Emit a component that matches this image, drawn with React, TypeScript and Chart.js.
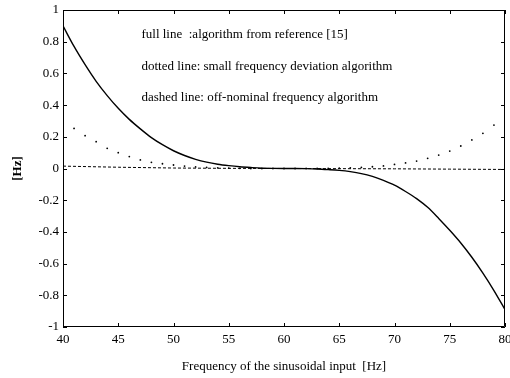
import React, { useEffect, useRef } from "react";
import { Chart, registerables } from "chart.js";

Chart.register(...registerables);

const freqs = [40,41,42,43,44,45,46,47,48,49,50,51,52,53,54,55,56,57,58,59,60,61,62,63,64,65,66,67,68,69,70,71,72,73,74,75,76,77,78,79,80];
const fullLine = [0.90,0.77,0.655,0.55,0.46,0.38,0.31,0.25,0.195,0.15,0.112,0.082,0.058,0.04,0.027,0.018,0.011,0.006,0.002,0.0005,0,0,-0.001,-0.003,-0.007,-0.012,-0.02,-0.032,-0.05,-0.075,-0.105,-0.145,-0.19,-0.245,-0.315,-0.39,-0.47,-0.56,-0.66,-0.77,-0.89];
const dottedLine = [null,0.253,0.207,0.169,0.127,0.10,0.075,0.054,0.039,0.03,0.022,0.015,0.01,0.007,0.004,0.002,0.001,0,0,0,0,0,0,0,0.001,0.002,0.004,0.007,0.011,0.016,0.026,0.035,0.047,0.064,0.085,0.11,0.142,0.18,0.222,0.274,null];
const dashFreqs = [40,45,50,55,60,65,70,75,80];
const dashedLine = [0.015,0.008,0.003,0.001,0,-0.001,-0.002,-0.004,-0.006];

const annotations = [
  "full line  :algorithm from reference [15]",
  "dotted line: small frequency deviation algorithm",
  "dashed line: off-nominal frequency algorithm",
];
const xTitle = "Frequency of the sinusoidal input  [Hz]";
const yTitle = "[Hz]";

const SERIF = "'Liberation Serif', 'Times New Roman', serif";

const framePlugin = {
  id: "frame",
  afterDraw(chart: any) {
    const { ctx, chartArea } = chart;
    const { left, right, top, bottom } = chartArea;
    const xs = chart.scales.x;
    const ys = chart.scales.y;
    ctx.save();
    ctx.strokeStyle = "#000";
    ctx.lineWidth = 1;
    ctx.beginPath();
    ctx.rect(left + 0.5, top + 0.5, right - left - 1, bottom - top - 1);
    ctx.stroke();
    const tl = 4;
    ctx.beginPath();
    xs.ticks.forEach((t: any) => {
      const px = Math.round(xs.getPixelForValue(t.value)) + 0.5;
      ctx.moveTo(px, bottom);
      ctx.lineTo(px, bottom - tl);
      ctx.moveTo(px, top);
      ctx.lineTo(px, top + tl);
    });
    ys.ticks.forEach((t: any) => {
      const py = Math.round(ys.getPixelForValue(t.value)) + 0.5;
      ctx.moveTo(left, py);
      ctx.lineTo(left + tl, py);
      ctx.moveTo(right, py);
      ctx.lineTo(right - tl, py);
    });
    ctx.stroke();
    ctx.fillStyle = "#000";
    ctx.font = `13px ${SERIF}`;
    ctx.textBaseline = "middle";
    ctx.textAlign = "left";
    const lx = xs.getPixelForValue(47.1);
    annotations.forEach((s, i) => {
      const ly = ys.getPixelForValue(0.845 - i * 0.2);
      ctx.fillText(s, lx, ly);
    });
    ctx.restore();
  },
};

export default function App() {
  const ref = useRef<HTMLCanvasElement>(null);
  useEffect(() => {
    if (!ref.current) return;
    const chart = new Chart(ref.current, {
      type: "scatter",
      data: {
        datasets: [
          {
            label: "full",
            data: freqs.map((f, i) => ({ x: f, y: fullLine[i] })),
            showLine: true,
            borderColor: "#000",
            borderWidth: 1.4,
            pointRadius: 0,
            cubicInterpolationMode: "monotone",
          },
          {
            label: "dotted",
            data: freqs.map((f, i) => ({ x: f, y: dottedLine[i] })) as any,
            showLine: false,
            pointRadius: 0.9,
            pointBorderWidth: 0,
            backgroundColor: "#000",
            borderColor: "#000",
          },
          {
            label: "dashed",
            data: dashFreqs.map((f, i) => ({ x: f, y: dashedLine[i] })),
            showLine: true,
            borderColor: "#000",
            borderWidth: 1,
            borderDash: [3, 2],
            pointRadius: 0,
          },
        ],
      },
      options: {
        responsive: false,
        animation: false,
        layout: { padding: { top: 10, right: 5, left: 0, bottom: 0 } },
        plugins: { legend: { display: false }, tooltip: { enabled: false } },
        scales: {
          x: {
            type: "linear",
            min: 40,
            max: 80,
            grid: { display: false, drawTicks: false },
            border: { display: false },
            ticks: { stepSize: 5, padding: 5, color: "#000", font: { family: SERIF, size: 13 }, maxRotation: 0 },
            title: { display: true, text: xTitle, color: "#000", font: { family: SERIF, size: 13 }, padding: { top: 0, bottom: 4 } },
            afterFit: (s: any) => {
              s.height = 51;
              s.paddingLeft = 0;
              s.paddingRight = 0;
            },
          },
          y: {
            type: "linear",
            min: -1,
            max: 1,
            grid: { display: false, drawTicks: false },
            border: { display: false },
            ticks: {
              stepSize: 0.2,
              padding: 4,
              color: "#000",
              font: { family: SERIF, size: 13 },
              callback: (v: any) => String(Number(Number(v).toFixed(1))),
            },
            title: { display: true, text: yTitle, color: "#000", font: { family: SERIF, size: 13, weight: "bold" }, padding: { top: 10, bottom: 0 } },
            afterFit: (s: any) => {
              s.width = 63;
              s.paddingTop = 0;
              s.paddingBottom = 0;
            },
          },
        },
      },
      plugins: [framePlugin],
    });
    return () => chart.destroy();
  }, []);
  return (
    <div style={{ position: "fixed", left: 0, top: 0, width: 510, height: 378, background: "#fff" }}>
      <canvas ref={ref} width={510} height={378} />
    </div>
  );
}
